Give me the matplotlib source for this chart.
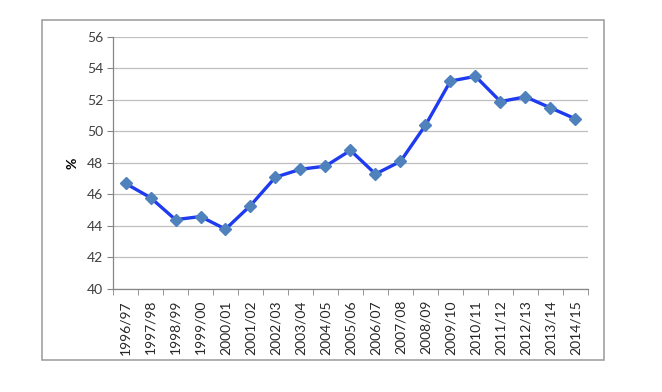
import numpy as np
import matplotlib.pyplot as plt
from matplotlib.patches import Rectangle

years = ["1996/97", "1997/98", "1998/99", "1999/00", "2000/01", "2001/02",
         "2002/03", "2003/04", "2004/05", "2005/06", "2006/07", "2007/08",
         "2008/09", "2009/10", "2010/11", "2011/12", "2012/13", "2013/14",
         "2014/15"]
pct = [46.7, 45.8, 44.4, 44.6, 43.8, 45.3, 47.1, 47.6, 47.8, 48.8, 47.3,
       48.1, 50.4, 53.2, 53.5, 51.9, 52.2, 51.5, 50.8]
yticks = [40, 42, 44, 46, 48, 50, 52, 54, 56]

plt.rcParams['font.family'] = ['Lato', 'DejaVu Sans']

fig = plt.figure(figsize=(6.62, 3.92), dpi=100)

# outer chart frame
fig.patches.append(Rectangle((0.0634, 0.0816), 0.849, 0.867, transform=fig.transFigure,
                             fill=False, edgecolor='#9A9A9A', linewidth=1.1))

ax = fig.add_axes([0.1707, 0.2628, 0.7175, 0.6429])
x = np.arange(len(years))
ax.plot(x, pct, color='#1F3BF0', linewidth=2.4, marker='D', markersize=6.5,
        markerfacecolor='#4F81BD', markeredgecolor='#4F81BD', zorder=3)

ax.set_xlim(-0.5, len(years) - 0.5)
ax.set_ylim(40, 56)
ax.set_yticks(yticks)
ax.set_yticklabels([str(v) for v in yticks], fontsize=10, color='#404040')
ax.grid(axis='y', color='#BFBFBF', linewidth=0.9)
ax.set_axisbelow(True)

ax.set_xticks(x)
ax.set_xticklabels(years, rotation=90, fontsize=10, color='#262626')
ax.tick_params(axis='x', which='major', length=0, pad=8)
ax.set_xticks(np.arange(-0.5, len(years), 1.0), minor=True)
ax.tick_params(axis='x', which='minor', length=4, color='#868686', direction='out')
ax.tick_params(axis='y', length=4, color='#868686', direction='out', pad=3)

for side in ['top', 'right']:
    ax.spines[side].set_visible(False)
for side in ['left', 'bottom']:
    ax.spines[side].set_color('#868686')
    ax.spines[side].set_linewidth(0.9)

ax.set_ylabel('%', fontsize=10, fontweight='bold', labelpad=6)

fig.savefig('out.png', dpi=100)
